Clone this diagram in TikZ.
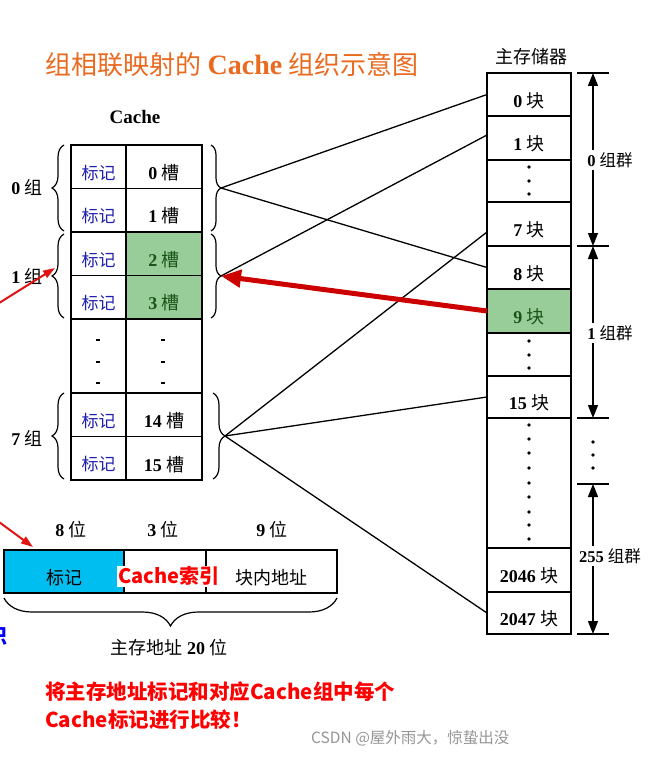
\documentclass[tikz,border=0pt]{standalone}
\usepackage{fontspec}
\setmainfont{Liberation Serif}
\newfontfamily\cjk{Noto Sans CJK SC}
\usetikzlibrary{arrows.meta,decorations.pathreplacing}
\definecolor{titleor}{RGB}{234,106,32}
\definecolor{tagblue}{RGB}{30,30,175}
\definecolor{cellgreen}{RGB}{152,204,152}
\definecolor{darkgreen}{RGB}{25,85,25}
\definecolor{addrcyan}{RGB}{0,191,240}
\definecolor{arrowred}{RGB}{205,0,0}
\definecolor{brightred}{RGB}{225,20,20}
\definecolor{wmgray}{RGB}{150,150,150}
\newcommand\zh[1]{{\cjk #1}}
\newcommand\fsz[1]{\fontsize{#1}{#1}\selectfont}
\begin{document}
\begin{tikzpicture}[x=1pt,y=-1pt,
  box/.style={draw, line width=1.5pt, inner sep=0pt, outer sep=0pt},
  tagc/.style={box, minimum width=55pt, minimum height=43.5pt},
  slotc/.style={box, minimum width=76pt, minimum height=43.5pt},
  memc/.style={box, minimum width=84pt},
  intext/.style={label={[yshift=-6pt, inner sep=0pt]center:#1}},
  txt/.style={inner sep=0pt, font=\fsz{18}},
  lbrace/.style={decorate, decoration={brace, amplitude=12pt}, line width=1.2pt},
  rbrace/.style={decorate, decoration={brace, amplitude=10pt}, line width=1.2pt},
  link/.style={line width=1.3pt},
  dimline/.style={line width=1.3pt, {Triangle[length=13pt,width=10pt]}-{Triangle[length=13pt,width=10pt]}},
  tickline/.style={line width=1.3pt},
  dimlbl/.style={fill=white, inner sep=2pt, font=\fsz{16.5}},
  memdot/.style={fill=black},
]
\useasboundingbox (0,0) rectangle (658,759);
\fill[white] (0,0) rectangle (658,759);

% title
\node[font=\fsz{26}, text=titleor, inner sep=0pt] (title) at (232,65) {\zh{组相联映射的} {\fsz{28}\bfseries Cache} \zh{组织示意图}};
\node[font=\fsz{19}\bfseries, inner sep=0pt] (cachehdr) at (135,117) {Cache};
\node[font=\fsz{18}, inner sep=0pt] (memhdr) at (531,57) {\zh{主存储器}};

% cache table
\node[tagc, intext={\color{tagblue}\fsz{17}\zh{标记}}] (t0) at (98.5,166.6) {};
\node[slotc, intext={\fsz{18}\textbf{0} \zh{槽}}] (s0) at (164,166.6) {};
\node[tagc, intext={\color{tagblue}\fsz{17}\zh{标记}}] (t1) at (98.5,210.1) {};
\node[slotc, intext={\fsz{18}\textbf{1} \zh{槽}}] (s1) at (164,210.1) {};
\node[tagc, intext={\color{tagblue}\fsz{17}\zh{标记}}] (t2) at (98.5,253.6) {};
\node[slotc, fill=cellgreen, intext={\color{darkgreen}\fsz{18}\textbf{2} \zh{槽}}] (s2) at (164,253.6) {};
\node[tagc, intext={\color{tagblue}\fsz{17}\zh{标记}}] (t3) at (98.5,297.1) {};
\node[slotc, fill=cellgreen, intext={\color{darkgreen}\fsz{18}\textbf{3} \zh{槽}}] (s3) at (164,297.1) {};
\node[box, minimum width=55pt, minimum height=74.15pt] (td) at (98.5,355.9) {};
\node[box, minimum width=76pt, minimum height=74.15pt] (sd) at (164,355.9) {};
\node[tagc, intext={\color{tagblue}\fsz{17}\zh{标记}}] (t14) at (98.5,414.75) {};
\node[slotc, intext={\fsz{18}\textbf{14} \zh{槽}}] (s14) at (164,414.75) {};
\node[tagc, intext={\color{tagblue}\fsz{17}\zh{标记}}] (t15) at (98.5,458.25) {};
\node[slotc, intext={\fsz{18}\textbf{15} \zh{槽}}] (s15) at (164,458.25) {};
\foreach \yy in {340,362,383} {
  \fill (95.5,\yy-0.8) rectangle (99.5,\yy+1.2);
  \fill (161,\yy-0.8) rectangle (165,\yy+1.2);
}

% group labels and braces
\node[txt] (gl0) at (27,187) {\textbf{0} \zh{组}};
\node[txt] (gl1) at (27,276) {\textbf{1} \zh{组}};
\node[txt] (gl7) at (27,438) {\textbf{7} \zh{组}};
\draw[lbrace] (64,231) -- (64,145);
\draw[lbrace] (64,318) -- (64,234);
\draw[lbrace] (64,479) -- (64,393);
\draw[rbrace] (211,145) -- (211,231);
\draw[rbrace] (211,234) -- (211,318);
\draw[decorate, decoration={brace, amplitude=12pt}, line width=1.2pt] (213,393) -- (213,479);
\coordinate (g0) at (221,188);
\coordinate (g1) at (221,276);
\coordinate (g7) at (225,436);

% main memory
\node[memc, minimum height=43pt, intext={\fsz{18}\textbf{0} \zh{块}}] (m0) at (529,94.5) {};
\node[memc, minimum height=44pt, intext={\fsz{18}\textbf{1} \zh{块}}] (m1) at (529,138) {};
\node[memc, minimum height=42pt] (md1) at (529,181) {};
\node[memc, minimum height=44pt, intext={\fsz{18}\textbf{7} \zh{块}}] (m7) at (529,224) {};
\node[memc, minimum height=43pt, intext={\fsz{18}\textbf{8} \zh{块}}] (m8) at (529,267.5) {};
\node[memc, minimum height=44pt, fill=cellgreen, intext={\color{darkgreen}\fsz{18}\textbf{9} \zh{块}}] (m9) at (529,311) {};
\node[memc, minimum height=43pt] (md2) at (529,354.5) {};
\node[memc, minimum height=42pt, intext={\fsz{18}\textbf{15} \zh{块}}] (m15) at (529,397) {};
\node[memc, minimum height=130pt] (md3) at (529,483) {};
\node[memc, minimum height=44pt, intext={\fsz{18}\textbf{2046} \zh{块}}] (m2046) at (529,570) {};
\node[memc, minimum height=42pt, intext={\fsz{18}\textbf{2047} \zh{块}}] (m2047) at (529,613) {};
\foreach \yy in {167,181,194,341,355,368,425,439,453,468,483,497,512,525,539}
  \fill[memdot] (529,\yy) circle (1.8pt);

% connectors
\draw[link] (g0) -- (m0.west);
\draw[link] (g0) -- (m8.west);
\draw[link] (g1) -- ([yshift=3pt]m1.west);
\draw[link] (g7) -- ([yshift=-8pt]m7.west);
\draw[link] (g7) -- (m15.west);
\draw[link] (g7) -- (m2047.west);
\draw[arrowred, line width=5pt, -{Triangle[length=20pt,width=17pt]}] (m9.west) -- (g1);

% left red arrows (cut by the page edge)
\coordinate (ra1s) at (-20,315);
\coordinate (ra1e) at (55,268);
\coordinate (ra2s) at (-20,508);
\coordinate (ra2e) at (33,547);
\draw[brightred, line width=2pt, -{Triangle[length=12pt,width=8pt]}] (ra1s) -- (ra1e);
\draw[brightred, line width=2pt, -{Triangle[length=12pt,width=8pt]}] (ra2s) -- (ra2e);
\node[anchor=east, inner sep=0pt, text=blue, font=\fsz{20}\cjk\bfseries] (cut) at (8,636) {识};

% right dimensions
\foreach \yy in {73,246,418,484,634} \draw[tickline] (577,\yy) -- (609,\yy);
\coordinate (a0) at (593,73);
\coordinate (a1) at (593,246);
\coordinate (a2) at (593,418);
\coordinate (a3) at (593,484);
\coordinate (a4) at (593,634);
\draw[dimline] (a0) -- (a1);
\draw[dimline] (a1) -- (a2);
\draw[dimline] (a3) -- (a4);
\node[dimlbl] (lg0) at (610,160) {\textbf{0} \zh{组群}};
\node[dimlbl] (lg1) at (610,333) {\textbf{1} \zh{组群}};
\node[dimlbl] (lg255) at (610,556) {\textbf{255} \zh{组群}};
\foreach \yy in {442,455,468} \fill (593,\yy) circle (1.8pt);

% address format
\node[txt] (b8) at (71,530) {\textbf{8} \zh{位}};
\node[txt] (b3) at (163,530) {\textbf{3} \zh{位}};
\node[txt] (b9) at (272,530) {\textbf{9} \zh{位}};
\node[box, fill=addrcyan, minimum width=120pt, minimum height=43pt, intext={\fsz{18}\zh{标记}}] (atag) at (64,571.5) {};
\node[box, minimum width=82pt, minimum height=43pt] (aidx) at (165,571.5) {};
\node[box, minimum width=131pt, minimum height=43pt, intext={\fsz{18}\zh{块内地址}}] (aoff) at (271.5,571.5) {};
\node[fill=white, inner sep=1pt, text=red, font=\fsz{20}\cjk\bfseries] (idxlbl) at (169,576) {Cache索引};
\draw[decorate, decoration={brace, amplitude=28pt}, line width=1.2pt] (337,598) -- (4,598);
\node[txt] (total) at (169,648) {\zh{主存地址} \textbf{20} \zh{位}};

% notes
\node[anchor=west, inner sep=0pt, text=red, font=\fsz{20.5}\cjk\bfseries] (note1) at (45,692) {将主存地址标记和对应Cache组中每个};
\node[anchor=west, inner sep=0pt, text=red, font=\fsz{20.5}\cjk\bfseries] (note2) at (45,720) {Cache标记进行比较！};
\node[anchor=west, inner sep=0pt, text=wmgray, font=\fsz{15.5}\cjk] (wm) at (311,738) {CSDN @屋外雨大，惊蛰出没};
\end{tikzpicture}
\end{document}
